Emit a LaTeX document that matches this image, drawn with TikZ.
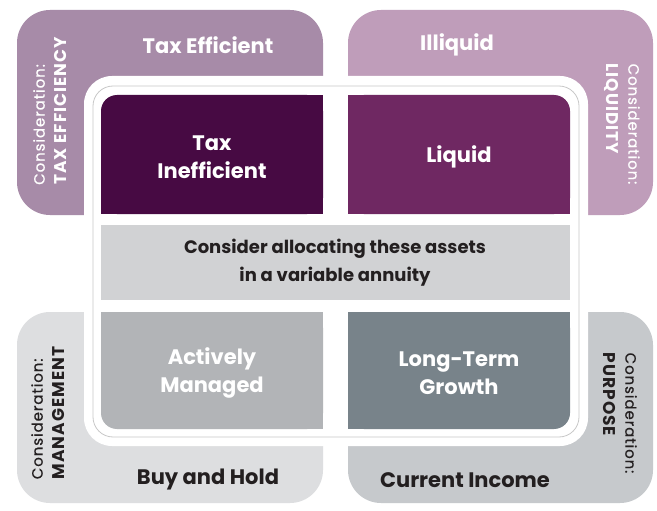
\documentclass[tikz,border=0pt]{standalone}
\usepackage{fontspec}
\setmainfont{Poppins}
\definecolor{TEbg}{HTML}{A78BA8}
\definecolor{ILbg}{HTML}{BF9DBA}
\definecolor{TIc}{HTML}{470A43}
\definecolor{Lc}{HTML}{6F2862}
\definecolor{Midc}{HTML}{D1D2D4}
\definecolor{AMc}{HTML}{B2B4B7}
\definecolor{LTGc}{HTML}{78838A}
\definecolor{BHbg}{HTML}{DDDEE0}
\definecolor{CIbg}{HTML}{C6C9CC}
\definecolor{darktxt}{HTML}{231F20}
\definecolor{framec}{HTML}{C8C8C8}
\newcommand\considtxt{{\fontsize{15}{22}\selectfont\mdseries\addfontfeatures{LetterSpace=6,FakeBold=0.6}Consideration:}}
\begin{document}
\begin{tikzpicture}[x=1pt,y=-1pt,
  lbl/.style={font=\fontsize{21}{28}\selectfont\bfseries, align=center, inner sep=0pt},
  midlbl/.style={font=\fontsize{18}{28}\selectfont\bfseries, align=center, inner sep=0pt},
  outerlbl/.style={font=\fontsize{21}{28}\selectfont\bfseries, align=center, inner sep=0pt},
  rot/.style={font=\fontsize{17}{22}\selectfont\bfseries\addfontfeatures{LetterSpace=6}, align=left, inner sep=0pt}]
\useasboundingbox (0,0) rectangle (657,511);
\fill[white] (0,0) rectangle (657,511);
% outer quadrants
\fill[TEbg, rounded corners=33pt] (17,10) rectangle (323,215);
\fill[ILbg, rounded corners=33pt] (348,10) rectangle (653,215);
\fill[BHbg, rounded corners=33pt] (17,312) rectangle (323,503);
\fill[CIbg, rounded corners=33pt] (348,312) rectangle (653,503);
% white frame
\fill[white, rounded corners=28pt] (84,76) rectangle (588,446);
\draw[framec, line width=0.8pt, rounded corners=20pt] (93,86) rectangle (579,437);
% inner boxes
\fill[TIc] (117,95) rectangle (323,214);
\fill[TIc] (101,111) rectangle (323,214);
\fill[TIc, rounded corners=16pt] (101,95) rectangle (323,214);
\fill[Lc] (348,95) rectangle (554,214);
\fill[Lc] (348,111) rectangle (570,214);
\fill[Lc, rounded corners=16pt] (348,95) rectangle (570,214);
\fill[Midc] (101,225) rectangle (570,300);
\fill[AMc] (117,312) rectangle (323,429);
\fill[AMc] (101,312) rectangle (323,413);
\fill[AMc, rounded corners=16pt] (101,312) rectangle (323,429);
\fill[LTGc] (348,312) rectangle (554,429);
\fill[LTGc] (348,312) rectangle (570,413);
\fill[LTGc, rounded corners=16pt] (348,312) rectangle (570,429);
% outer labels
\node[outerlbl, text=white] (te) at (208,45) {Tax Efficient};
\node[outerlbl, text=white] (il) at (457,45) {Illiquid};
\node[outerlbl, text=darktxt] (bh) at (208,480) {Buy and Hold};
\node[outerlbl, text=darktxt] (ci) at (465,480) {Current Income};
% inner labels
\node[lbl, text=white] (ti) at (212,157) {Tax\\Inefficient};
\node[lbl, text=white] (lq) at (459,157) {Liquid};
\node[midlbl, text=darktxt] (mid) at (335,263) {Consider allocating these assets\\in a variable annuity};
\node[lbl, text=white] (am) at (212,373) {Actively\\Managed};
\node[lbl, text=white] (ltg) at (459,373) {Long-Term\\Growth};
% rotated considerations
\node[rot, rotate=90, text=white] (tec) at (50,111) {\considtxt\\TAX EFFICIENCY};
\node[rot, rotate=-90, text=white] (ilc) at (622,124) {\considtxt\\LIQUIDITY};
\node[rot, rotate=90, text=darktxt] (bhc) at (48,413) {\considtxt\\MANAGEMENT};
\node[rot, rotate=-90, text=darktxt] (cic) at (620,413) {\considtxt\\PURPOSE};
\end{tikzpicture}
\end{document}
